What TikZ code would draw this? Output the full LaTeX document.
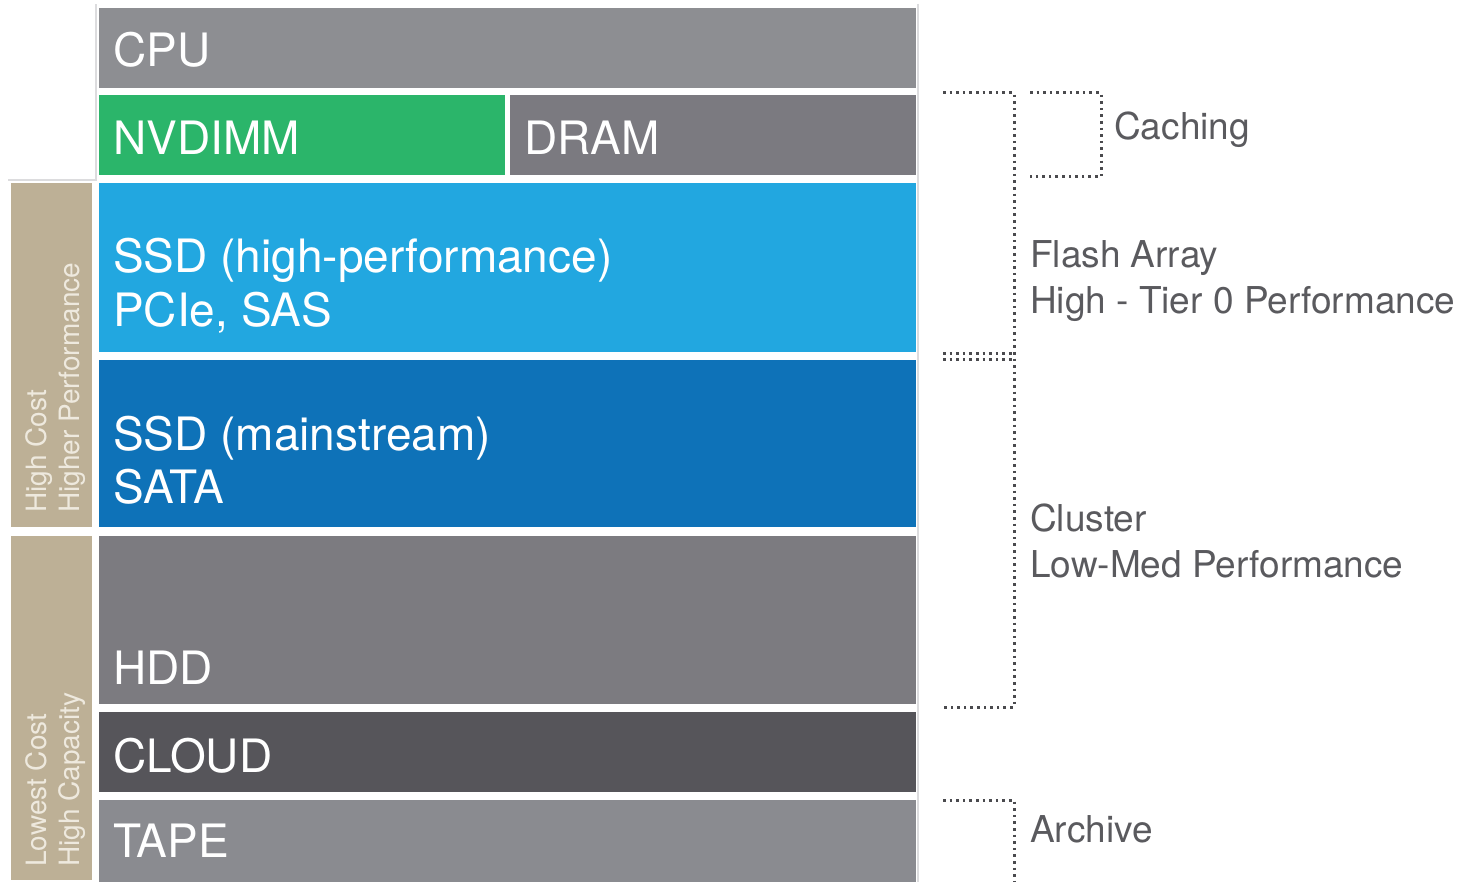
\documentclass[tikz,border=0pt]{standalone}
\usepackage{fontspec}
\setmainfont{TeX Gyre Heros}
\definecolor{cpuc}{HTML}{8D8E92}
\definecolor{nvc}{HTML}{2BB56A}
\definecolor{dramc}{HTML}{7B7A80}
\definecolor{ssdhc}{HTML}{22A7E0}
\definecolor{ssdmc}{HTML}{0E72B8}
\definecolor{hddc}{HTML}{7C7B80}
\definecolor{cloudc}{HTML}{56555A}
\definecolor{tapec}{HTML}{8A8B90}
\definecolor{tanc}{HTML}{BDB096}
\definecolor{tantext}{HTML}{EEE9DE}
\definecolor{labc}{HTML}{5A5A5E}
\definecolor{dotc}{HTML}{4A4A4E}
\definecolor{framec}{HTML}{DCDCDE}
\begin{document}
\begin{tikzpicture}[x=1pt,y=-1pt,
  box/.style={draw=none,inner sep=0pt,anchor=north west},
  boxtext/.style={anchor=base west,inner sep=0pt,text=white,font=\fontsize{46}{50}\selectfont},
  tantxt/.style={anchor=base west,inner sep=0pt,rotate=90,text=tantext,font=\fontsize{28}{30}\selectfont},
  rlabel/.style={anchor=base west,inner sep=0pt,text=labc,font=\fontsize{37}{40}\selectfont},
  dots/.style={draw=dotc,line width=3pt,dash pattern=on 2.6pt off 4pt}
]
\useasboundingbox (0,0) rectangle (1475,882);
% faint frame
\draw[framec,line width=1.5pt] (8,180) -- (96,180) -- (96,4);
\draw[framec,line width=1.5pt] (918,4) -- (918,882);
% storage boxes
\node[box,fill=cpuc,minimum width=817pt,minimum height=80pt] (cpu) at (99,8) {};
\node[box,fill=nvc,minimum width=406pt,minimum height=80pt] (nv) at (99,95) {};
\node[box,fill=dramc,minimum width=406pt,minimum height=80pt] (dram) at (510,95) {};
\node[box,fill=ssdhc,minimum width=817pt,minimum height=169pt] (ssdh) at (99,183) {};
\node[box,fill=ssdmc,minimum width=817pt,minimum height=167pt] (ssdm) at (99,360) {};
\node[box,fill=hddc,minimum width=817pt,minimum height=168pt] (hdd) at (99,536) {};
\node[box,fill=cloudc,minimum width=817pt,minimum height=80pt] (cloud) at (99,712) {};
\node[box,fill=tapec,minimum width=817pt,minimum height=82pt] (tape) at (99,800) {};
% tan side boxes
\node[box,fill=tanc,minimum width=81pt,minimum height=344pt] (hc) at (11,183) {};
\node[box,fill=tanc,minimum width=81pt,minimum height=344pt] (lc) at (11,536) {};
% box texts
\node[boxtext] (tcpu) at (113,67) {CPU};
\node[boxtext] (tnv) at (113,155) {NVDIMM};
\node[boxtext] (tdram) at (524,155) {DRAM};
\node[boxtext] (tssdh1) at (113,273) {SSD (high-performance)};
\node[boxtext] (tssdh2) at (113,327) {PCIe, SAS};
\node[boxtext] (tssdm1) at (113,450) {SSD (mainstream)};
\node[boxtext] (tssdm2) at (113,503) {SATA};
\node[boxtext] (thdd) at (113,684) {HDD};
\node[boxtext] (tcloud) at (113,772) {CLOUD};
\node[boxtext] (ttape) at (113,857) {TAPE};
% tan texts
\node[tantxt] (thc1) at (46,513) {High Cost};
\node[tantxt] (thc2) at (79,513) {Higher Performance};
\node[tantxt] (tlc1) at (46,867) {Lowest Cost};
\node[tantxt] (tlc2) at (79,867) {High Capacity};
% brackets
\coordinate (b1a) at (943,93);
\coordinate (b1b) at (1014,93);
\coordinate (b1c) at (1014,707);
\coordinate (b1d) at (943,707);
\coordinate (m1a) at (943,354);
\coordinate (m1b) at (1014,354);
\coordinate (m2a) at (943,360);
\coordinate (m2b) at (1014,360);
\coordinate (c1a) at (1030,93);
\coordinate (c1b) at (1101,93);
\coordinate (c1c) at (1101,177);
\coordinate (c1d) at (1030,177);
\coordinate (a1a) at (943,800);
\coordinate (a1b) at (1014,800);
\coordinate (a1c) at (1014,882);
\draw[dots] (b1a) -- (b1b) -- (b1c) -- (b1d);
\draw[dots] (m1a) -- (m1b);
\draw[dots] (m2a) -- (m2b);
\draw[dots] (c1a) -- (c1b) -- (c1c) -- (c1d);
\draw[dots] (a1a) -- (a1b) -- (a1c);
% right labels
\node[rlabel] (lcache) at (1114,140) {Caching};
\node[rlabel] (lflash1) at (1030,268) {Flash Array};
\node[rlabel] (lflash2) at (1030,314) {High - Tier 0 Performance};
\node[rlabel] (lclus1) at (1030,531) {Cluster};
\node[rlabel] (lclus2) at (1030,577) {Low-Med Performance};
\node[rlabel] (larch) at (1030,842) {Archive};
\end{tikzpicture}
\end{document}
